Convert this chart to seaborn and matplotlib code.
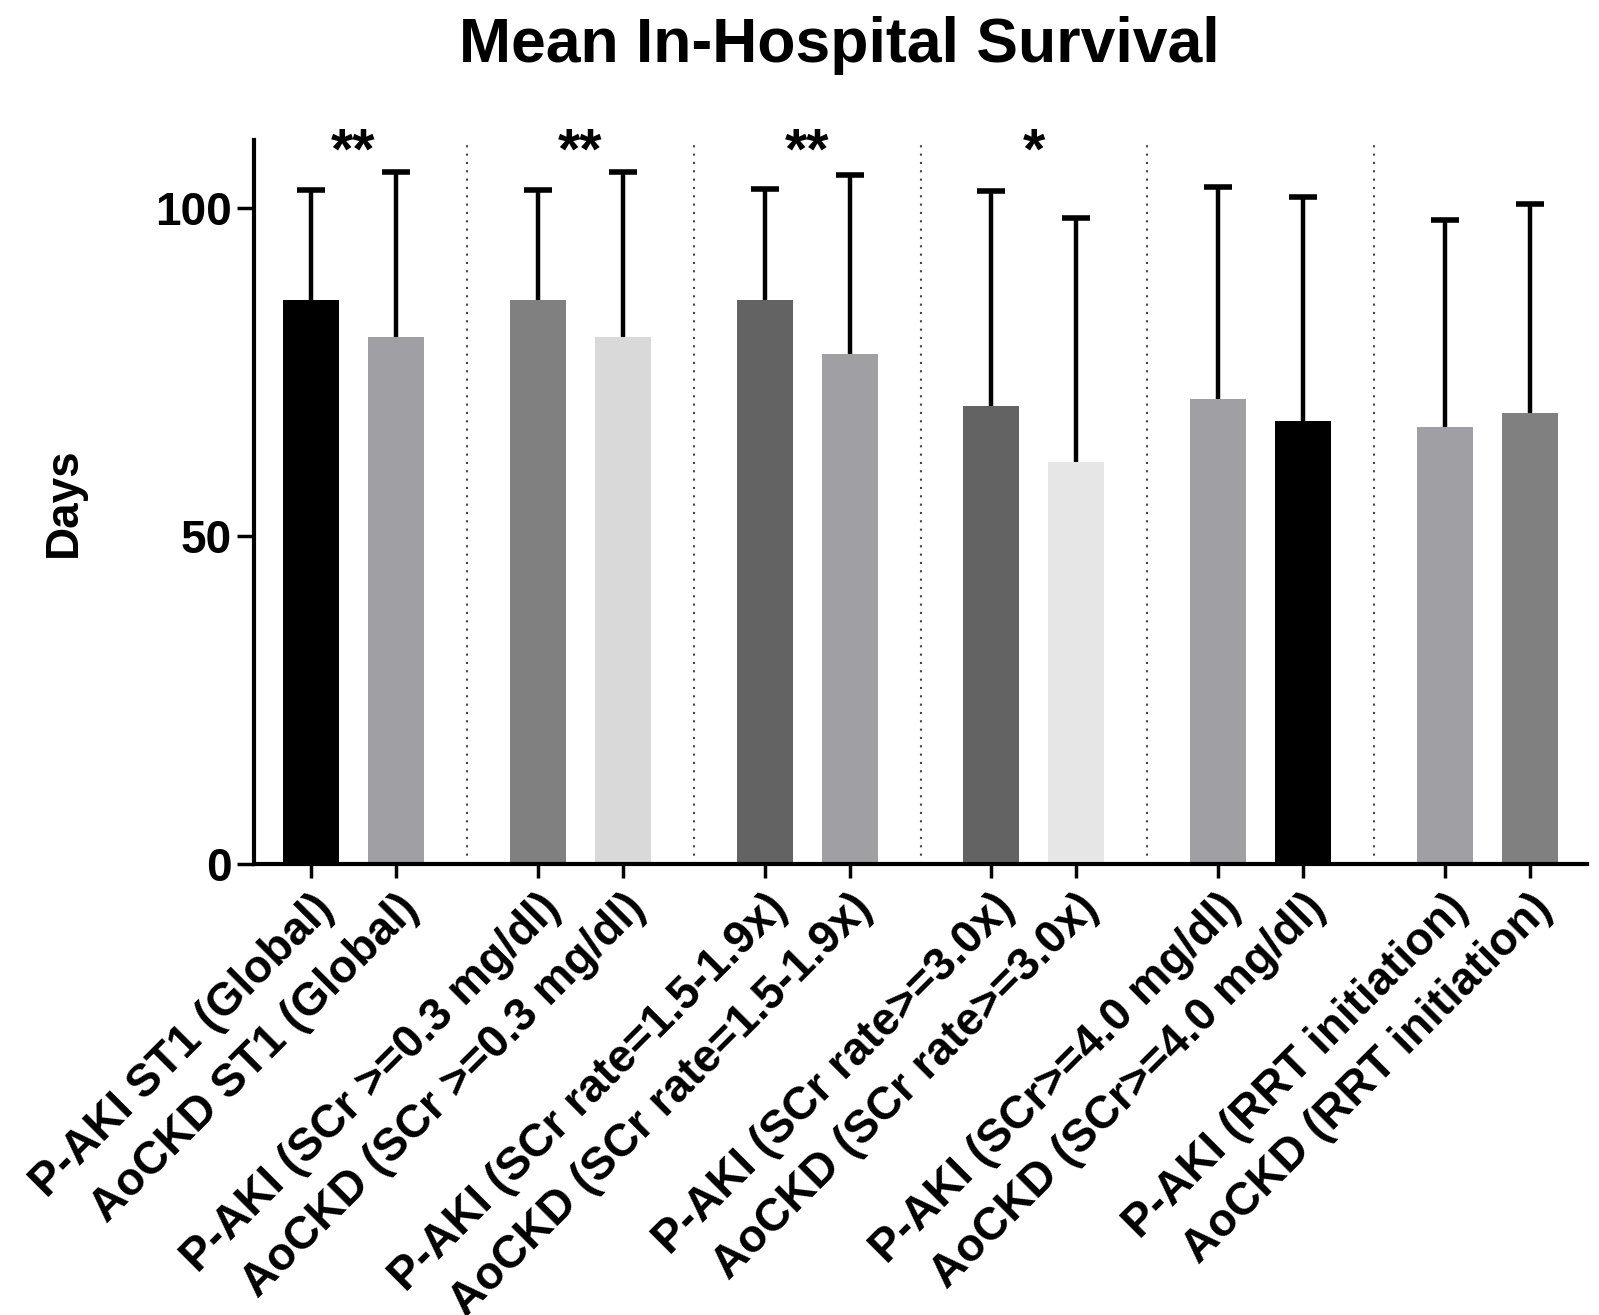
import numpy as np
import pandas as pd
import seaborn as sns
import matplotlib
matplotlib.use("Agg")
import matplotlib.pyplot as plt

# data (mean days and upper SD)
groups = ["ST1 (Global)", "(SCr >=0.3 mg/dl)", "(SCr rate=1.5-1.9x)",
          "(SCr rate>=3.0x)", "(SCr>=4.0 mg/dl)", "(RRT initiation)"]
labels = ["P-AKI ST1 (Global)", "AoCKD ST1 (Global)",
          "P-AKI (SCr >=0.3 mg/dl)", "AoCKD (SCr >=0.3 mg/dl)",
          "P-AKI (SCr rate=1.5-1.9x)", "AoCKD (SCr rate=1.5-1.9x)",
          "P-AKI (SCr rate>=3.0x)", "AoCKD (SCr rate>=3.0x)",
          "P-AKI (SCr>=4.0 mg/dl)", "AoCKD (SCr>=4.0 mg/dl)",
          "P-AKI (RRT initiation)", "AoCKD (RRT initiation)"]
means = [86.0, 80.3, 86.0, 80.3, 86.0, 77.7, 69.8, 61.3, 70.9, 67.5, 66.6, 68.7]
sd = [16.7, 25.2, 16.7, 25.2, 17.0, 27.3, 32.8, 37.2, 32.3, 34.2, 31.6, 31.9]
stars = ["**", "**", "**", "*", "", ""]
colors = ["#000000", "#a0a0a4", "#808080", "#d9d9d9", "#636363", "#a0a0a4",
          "#636363", "#e6e6e6", "#a0a0a4", "#000000", "#a0a0a4", "#808080"]

sns.set_style("ticks", {"axes.edgecolor": "black", "text.color": "black",
                        "xtick.color": "black", "ytick.color": "black",
                        "axes.labelcolor": "black"})
plt.rcParams["font.family"] = ["Liberation Sans", "DejaVu Sans"]
plt.rcParams["font.weight"] = "bold"

gap = 2.67
pos = [g * gap + k for g in range(len(groups)) for k in range(2)]
df = pd.DataFrame({"pos": pos, "label": labels, "days": means})

fig = plt.figure(figsize=(15.99, 13.15), dpi=100)
ax = fig.add_axes([0.15885, 0.34297, 0.83365, 0.55057])

sns.barplot(data=df, x="pos", y="days", hue="label", palette=dict(zip(labels, colors)),
            native_scale=True, width=0.66, dodge=False, legend=False,
            errorbar=None, saturation=1, linewidth=0, ax=ax)
eb = ax.errorbar(pos, means, yerr=[np.zeros(len(sd)), sd], fmt="none", ecolor="black",
                 elinewidth=3.2, capsize=10, capthick=4, zorder=0.8)
eb[1][0].set_visible(False)  # only the upper cap

# dotted separators between groups
for g in range(len(groups) - 1):
    ax.axvline((pos[2 * g + 1] + pos[2 * g + 2]) / 2, color="#444444",
               lw=1.5, ls=(0, (1, 3)), zorder=0)

for g, s in enumerate(stars):
    if s:
        ax.text((pos[2 * g] + pos[2 * g + 1]) / 2, 106.1, s, ha="center", va="baseline",
                fontsize=41, fontweight="bold")

ax.set_xlim(pos[0] - 0.67, pos[-1] + 0.67)
ax.set_ylim(0, 110.4)
ax.set_yticks([0, 50, 100])
ax.set_xticks(pos)
ax.set_xticklabels(labels, rotation=45, ha="right", rotation_mode="anchor",
                   fontsize=33, fontweight="bold")
ax.tick_params(axis="y", labelsize=33, length=12, width=2.5, pad=4)
ax.tick_params(axis="x", length=10, width=2.5, pad=6)
for t in ax.get_yticklabels():
    t.set_fontweight("bold")
ax.set_xlabel("")
ax.set_ylabel("Days", fontsize=33, fontweight="bold", labelpad=50)
sns.despine(ax=ax)
for side in ["left", "bottom"]:
    ax.spines[side].set_linewidth(3)

fig.text(0.525, 1 - 62 / 1315, "Mean In-Hospital Survival", ha="center", va="baseline",
         fontsize=45, fontweight="bold")

fig.savefig("out.png", dpi=100, facecolor="white")
